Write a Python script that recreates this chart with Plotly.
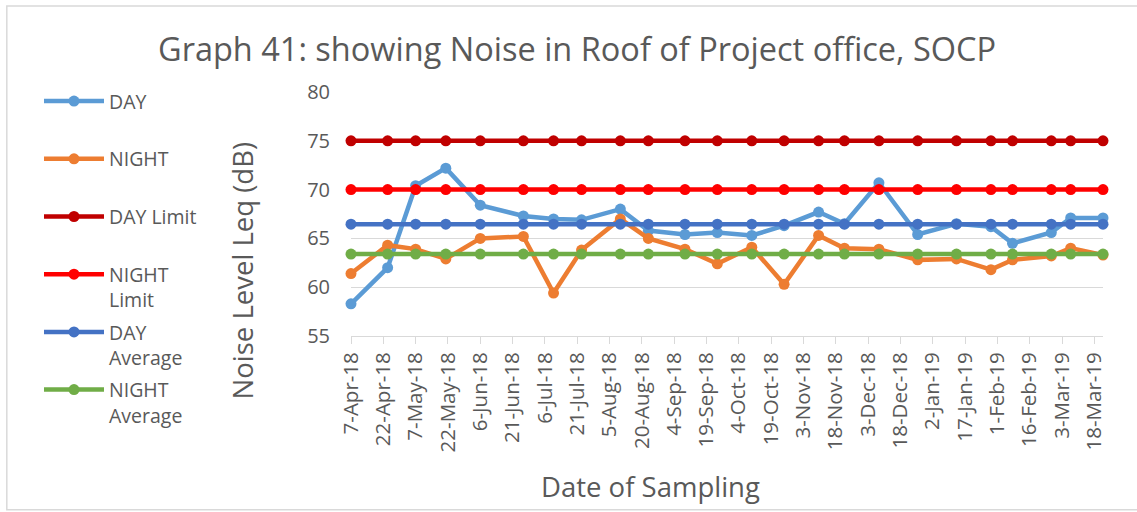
import plotly.graph_objects as go
import pandas as pd

# Sampling dates
dates = [
    "2018-04-07", "2018-04-24", "2018-05-07", "2018-05-21", "2018-06-06",
    "2018-06-26", "2018-07-10", "2018-07-23", "2018-08-10", "2018-08-23",
    "2018-09-09", "2018-09-24", "2018-10-10", "2018-10-25", "2018-11-10",
    "2018-11-22", "2018-12-08", "2018-12-26", "2019-01-13", "2019-01-29",
    "2019-02-08", "2019-02-26", "2019-03-07", "2019-03-22",
]

# Measured Leq values (dB)
day_values = [
    58.3, 62.0, 70.4, 72.2, 68.4, 67.3, 67.0, 66.9, 68.0, 65.8,
    65.4, 65.6, 65.3, 66.3, 67.7, 66.5, 70.7, 65.4, 66.5, 66.2,
    64.5, 65.6, 67.1, 67.1,
]
night_values = [
    61.4, 64.3, 63.9, 62.9, 65.0, 65.2, 59.4, 63.8, 67.0, 65.0,
    63.9, 62.4, 64.1, 60.3, 65.3, 64.0, 63.9, 62.8, 62.9, 61.8,
    62.8, 63.2, 64.0, 63.3,
]

# Reference levels (dB)
day_limit = 75
night_limit = 70
day_average = 66.46
night_average = 63.39

# Axis tick labels every 15 days
tick_labels = [
    "7-Apr-18", "22-Apr-18", "7-May-18", "22-May-18", "6-Jun-18", "21-Jun-18",
    "6-Jul-18", "21-Jul-18", "5-Aug-18", "20-Aug-18", "4-Sep-18", "19-Sep-18",
    "4-Oct-18", "19-Oct-18", "3-Nov-18", "18-Nov-18", "3-Dec-18", "18-Dec-18",
    "2-Jan-19", "17-Jan-19", "1-Feb-19", "16-Feb-19", "3-Mar-19", "18-Mar-19",
]
tick_vals = pd.to_datetime(tick_labels, format="%d-%b-%y")

series = [
    ("DAY<br> ", day_values, "#5B9BD5"),
    ("NIGHT<br> ", night_values, "#ED7D31"),
    ("DAY Limit<br> ", [day_limit] * len(dates), "#C00000"),
    ("NIGHT<br>Limit", [night_limit] * len(dates), "#FF0000"),
    ("DAY<br>Average", [day_average] * len(dates), "#4472C4"),
    ("NIGHT<br>Average", [night_average] * len(dates), "#70AD47"),
]

FONT = "Open Sans"
GREY = "#595959"

fig = go.Figure()
for i, (name, vals, color) in enumerate(series):
    fig.add_trace(go.Scatter(
        x=dates, y=vals, name=name, mode="lines+markers",
        line=dict(color=color, width=4.5),
        marker=dict(color=color, size=11),
        cliponaxis=False, legendgroup=f"g{i}",
    ))

fig.update_layout(
    width=1137, height=512,
    margin=dict(l=351, r=34, t=92, b=176, autoexpand=False),
    paper_bgcolor="white", plot_bgcolor="white",
    font=dict(family=FONT, color=GREY, size=20),
    showlegend=True,
    legend=dict(
        x=0.0343, y=0.84, xanchor="left", yanchor="top",
        xref="container", yref="container", maxheight=1,
        font=dict(family=FONT, size=19.5, color=GREY),
        itemwidth=60, valign="top", tracegroupgap=4,
        bgcolor="rgba(0,0,0,0)",
    ),
    xaxis=dict(
        type="date",
        range=["2018-04-07", "2019-03-22"],
        tickvals=tick_vals, ticktext=tick_labels, tickangle=-90,
        ticks="outside", ticklen=7, tickcolor="#D9D9D9",
        showline=True, linecolor="#D9D9D9", linewidth=1,
        showgrid=False, zeroline=False,
        tickfont=dict(size=20.5, color=GREY),
        automargin=False,
    ),
    yaxis=dict(
        range=[55, 80], dtick=5, tick0=55,
        showgrid=True, gridcolor="#D9D9D9", gridwidth=1,
        zeroline=False, showline=False, ticks="",
        tickfont=dict(size=20, color=GREY),
        ticklabelstandoff=20, automargin=False,
    ),
    annotations=[
        dict(text="Graph 41: showing Noise in Roof of Project office, SOCP",
             xref="paper", yref="paper", x=0.3003, y=1.179,
             xanchor="center", yanchor="middle", showarrow=False,
             font=dict(size=32.5, color=GREY, family=FONT)),
        dict(text="Noise Level Leq (dB)", textangle=-90,
             xref="paper", yref="paper", x=-0.1445, y=0.270,
             xanchor="center", yanchor="middle", showarrow=False,
             font=dict(size=27.5, color=GREY, family=FONT)),
        dict(text="Date of Sampling",
             xref="paper", yref="paper", x=0.398, y=-0.618,
             xanchor="center", yanchor="middle", showarrow=False,
             font=dict(size=27.5, color=GREY, family=FONT)),
    ],
    shapes=[
        dict(type="rect", xref="paper", yref="paper",
             x0=-0.4577, x1=1.06, y0=-0.7122, y1=1.3528,
             line=dict(color="#D9D9D9", width=1.5), layer="below"),
    ],
)

fig.write_html("out.html")
